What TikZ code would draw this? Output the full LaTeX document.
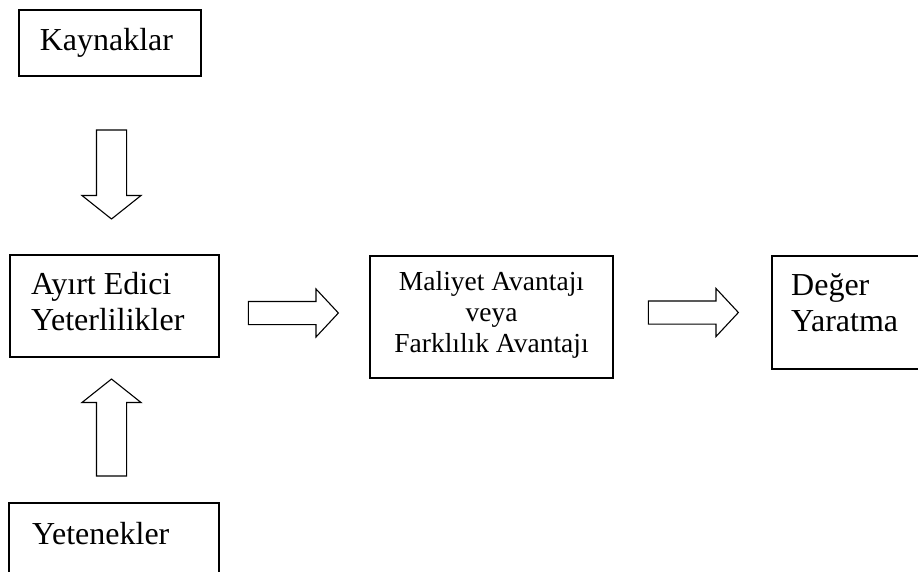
\documentclass[tikz,border=0pt]{standalone}
\usepackage{fontspec}
\setmainfont{Liberation Serif}
\usetikzlibrary{shapes.arrows}

\begin{document}
\begin{tikzpicture}[x=1pt, y=1pt,
    box/.style={draw, line width=1.7pt, inner sep=0pt},
    lbl/.style={inner sep=0pt, align=left, font=\fontsize{32}{36}\selectfont},
    small/.style={inner sep=0pt, align=center, font=\fontsize{27.5}{31}\selectfont},
    harrow/.style={draw, line width=1.1pt, single arrow, inner xsep=0pt, inner ysep=11pt,
        single arrow head extend=12.5pt, single arrow tip angle=94, minimum height=90},
    varrow/.style={draw, line width=1.1pt, single arrow, inner xsep=0pt, inner ysep=14.5pt,
        single arrow head extend=14.5pt, single arrow tip angle=103}]
    \useasboundingbox (0,0) rectangle (918,-571);

    \node[box, minimum width=182, minimum height=66] (kaynak) at (110,-43) {};
    \node[box, minimum width=209, minimum height=102] (ayirt) at (114.5,-306) {};
    \node[box, minimum width=210, minimum height=97] (yetenek) at (114,-551.5) {};
    \node[box, minimum width=243, minimum height=122] (avantaj) at (491.5,-317) {};
    \node[box, minimum width=188, minimum height=113] (deger) at (866,-312.5) {};

    \node[lbl, anchor=base west] (kaynakT) at (39.6,-50) {Kaynaklar};
    \node[lbl, anchor=base west] (ayirtT) at (31,-330) {Ayırt Edici\\Yeterlilikler};
    \node[lbl, anchor=base west] (yetenekT) at (32,-544) {Yetenekler};
    \node[small, anchor=base] (avantajT) at (491.5,-352) {Maliyet Avantajı\\veya\\Farklılık Avantajı};
    \node[lbl, anchor=base west] (degerT) at (791,-331) {Değer\\Yaratma};

    \node[varrow, minimum height=89, rotate=-90] (ok1) at (111.5,-168.5) {};
    \node[varrow, minimum height=97, rotate=90] (ok2) at (111.5,-433.5) {};
    \node[harrow] (ok3) at (288,-313) {};
    \node[harrow] (ok4) at (688,-312.5) {};
\end{tikzpicture}
\end{document}
